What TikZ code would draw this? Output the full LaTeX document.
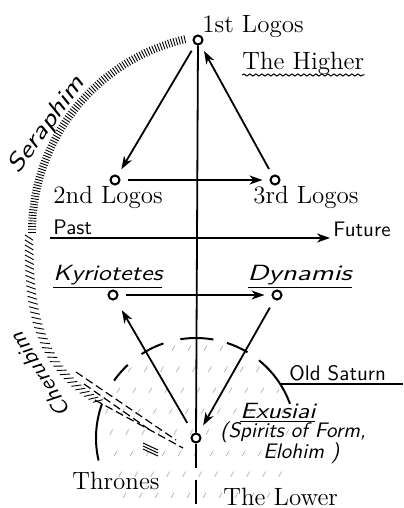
\documentclass[tikz,border=0pt]{standalone}
\usetikzlibrary{arrows.meta,decorations.pathmorphing}
\begin{document}
\begin{tikzpicture}[x=0.5pt, y=-0.5pt,
		dot/.style={circle, draw, line width=1pt, fill=white, minimum size=4.5pt, inner sep=0pt},
		arr/.style={line width=0.9pt, -{Stealth[length=6.5pt, width=4.5pt, inset=2pt]}, shorten <=3.5pt, shorten >=3.5pt},
		rmlbl/.style={font=\fontsize{12.5}{15}\selectfont, inner sep=0pt, anchor=base west},
		sflbl/.style={font=\sffamily\fontsize{10.5}{12}\selectfont, inner sep=0pt, anchor=base west},
		hand/.style={font=\sffamily\itshape\fontsize{11}{13}\selectfont, inner sep=0pt, anchor=base west},
		tick/.style={line width=0.45pt},
		ray/.style={line width=0.6pt, dash pattern=on 4pt off 2pt},
		hatch/.style={gray!55, line width=0.4pt, dash pattern=on 3pt off 9pt},
	]
	\useasboundingbox (0,0) rectangle (403,508);
	
	% Old Saturn
	\begin{scope}
		\clip (196,438) circle[radius=96];
		\foreach \k in {-60,-44,...,300}
			\draw[hatch] (\k,540) -- ++(110,-200);
	\end{scope}
	\foreach \a/\b in {167/200, 215/227, 237/251, 261/280, 288/301, 309/340}
		\draw[line width=1pt] (196,438) ++(\a:100) arc[start angle=\a, end angle=\b, radius=100];
	
	% Seraphim and Cherubim
	\foreach \t in {180,180.8,...,257}
		\draw[tick] (230,232) ++(\t:194) -- ++(\t:8);
	\foreach \t in {128,129.4,...,179}{
		\pgfmathsetmacro\rad{201+17*sin((180-\t)*2.25)^2}
		\draw[tick] ([shift={(\t-0.8:\rad-4)}]230,232) -- ([shift={(\t+0.8:\rad+4)}]230,232);
	}
	\node[font=\sffamily\itshape\fontsize{12}{14}\selectfont, rotate=54, xscale=1.25] (seraphim) at (47,125) {Seraphim};
	\node[font=\sffamily\itshape\fontsize{11}{13}\selectfont, rotate=122, xscale=1.1] (cherubim) at (40,375) {Cherubim};
	
	% Thrones rays
	\draw[ray] (76,372) -- (176,440);
	\draw[ray] (84,384) -- (150,430);
	\draw[ray] (95,400) -- (183,448);
	\foreach \d in {0,3,6}
		\draw[line width=0.5pt] (143,443+\d) -- (158,450+\d);
	
	% Points
	\node[dot] (logosI) at (198,40) {};
	\node[dot] (logosII) at (115,180) {};
	\node[dot] (logosIII) at (275,180) {};
	\node[dot] (kyriotetes) at (113,295) {};
	\node[dot] (dynamis) at (277,295) {};
	\node[dot] (exusiai) at (196,438) {};
	\coordinate (past) at (50,238);
	\coordinate (future) at (330,238);
	\coordinate (axisend) at (196,508);
	\coordinate (saturnarc) at (281,384);
	\coordinate (saturnend) at (403,384);
	
	% Axis
	\draw[line width=0.9pt] (logosI) -- (exusiai);
	\draw[line width=0.9pt, dash pattern=on 12pt off 6pt] (exusiai) -- (axisend);
	\draw[arr, shorten <=0pt, shorten >=0pt] (past) -- (future);
	\draw[line width=0.9pt] (saturnarc) -- (saturnend);
	
	% Vectors
	\draw[arr] (logosI) -- (logosII);
	\draw[arr] (logosII) -- (logosIII);
	\draw[arr] (logosIII) -- (logosI);
	\draw[arr] (kyriotetes) -- (dynamis);
	\draw[arr, shorten <=4.5pt, shorten >=4.5pt] (dynamis) -- (exusiai);
	\draw[arr, shorten <=6pt, shorten >=6pt] (exusiai) -- (kyriotetes);
	
	% Labels
	\node[rmlbl] (lblI) at (202,33) {1st Logos};
	\node[rmlbl] (higher) at (242,70) {The Higher};
	\draw[line width=0.5pt, decoration={snake, amplitude=0.5pt, segment length=3pt}, decorate] ([yshift=-2.5pt]higher.base west) -- ([yshift=-2.5pt]higher.base east);
	\node[rmlbl] (lblII) at (53,203) {2nd Logos};
	\node[rmlbl] (lblIII) at (253,203) {3rd Logos};
	\node[sflbl] at (53,234) {Past};
	\node[sflbl] at (333,236) {Future};
	\node[hand, xscale=1.2] (lblK) at (53,280) {\underline{Kyriotetes}};
	\node[hand, xscale=1.35] (lblD) at (247,280) {\underline{Dynamis}};
	\node[sflbl] (saturn) at (289,380) {Old Saturn};
	\node[hand, xscale=1.2] (lblE) at (240,418) {\underline{Exusiai}};
	\node[hand, font=\sffamily\itshape\fontsize{10.5}{12}\selectfont] (spirits) at (220,437) {(Spirits of Form,};
	\node[hand, font=\sffamily\itshape\fontsize{10.5}{12}\selectfont] (elohim) at (263,458) {Elohim\,\,)};
	\node[rmlbl] (thrones) at (72,489) {Thrones};
	\node[rmlbl] (lower) at (223,505) {The Lower};
\end{tikzpicture}
\end{document}
